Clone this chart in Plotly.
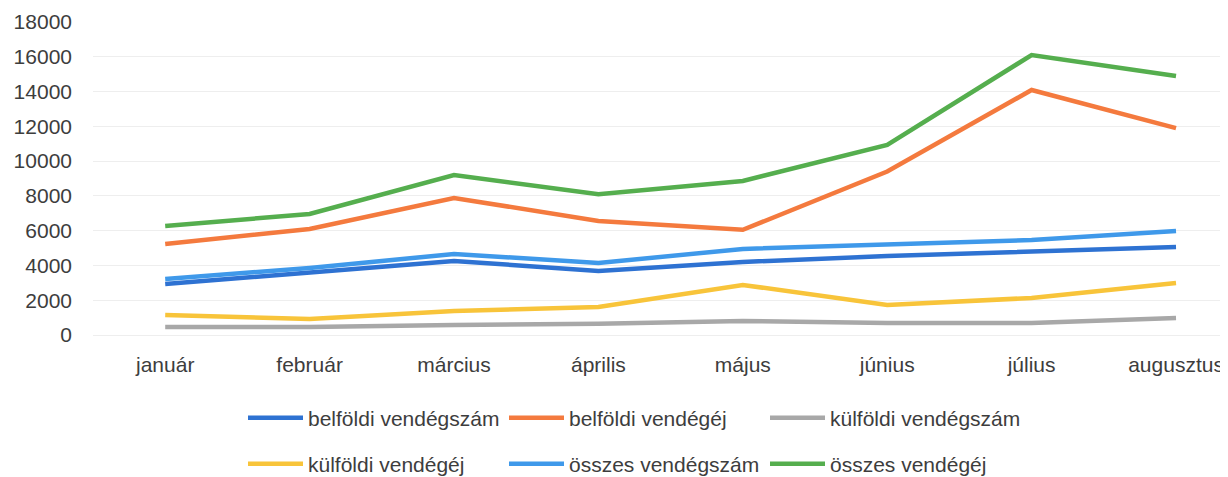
import plotly.graph_objects as go

months = ["január", "február", "március", "április", "május", "június", "július", "augusztus"]

belfoldi_vendegszam = [2930, 3570, 4260, 3680, 4200, 4540, 4770, 5060]
belfoldi_vendegej = [5230, 6100, 7880, 6560, 6050, 9400, 14090, 11900]
kulfoldi_vendegszam = [460, 460, 575, 650, 800, 690, 690, 980]
kulfoldi_vendegej = [1150, 920, 1380, 1610, 2880, 1725, 2130, 2990]
osszes_vendegszam = [3220, 3850, 4660, 4140, 4950, 5180, 5460, 5980]
osszes_vendegej = [6270, 6960, 9200, 8100, 8860, 10930, 16100, 14890]

series = [
    ("belföldi vendégszám", belfoldi_vendegszam, "#2E72D2", "legend"),
    ("belföldi vendégéj", belfoldi_vendegej, "#F47A3E", "legend"),
    ("külföldi vendégszám", kulfoldi_vendegszam, "#A8A8A8", "legend"),
    ("külföldi vendégéj", kulfoldi_vendegej, "#F8C43A", "legend2"),
    ("összes vendégszám", osszes_vendegszam, "#3F99EA", "legend2"),
    ("összes vendégéj", osszes_vendegej, "#55AE4E", "legend2"),
]

FONT = "Liberation Sans, Arial, sans-serif"
TXT = "#3d3d3d"

W, H = 1220, 469  # page body has an 8px margin

fig = go.Figure()
for name, vals, color, lg in series:
    fig.add_trace(go.Scatter(
        x=months, y=vals, name=name, mode="lines",
        line=dict(color=color, width=4.5),
        legend=lg,
    ))

legend_common = dict(
    orientation="h",
    xref="container", yref="container",
    xanchor="left", yanchor="middle",
    font=dict(family=FONT, size=21, color=TXT),
    entrywidth=191, entrywidthmode="pixels",
    itemwidth=55,
    bgcolor="rgba(0,0,0,0)",
    traceorder="normal",
)

fig.update_layout(
    width=W, height=H,
    margin=dict(l=85, r=0, t=14, b=142),
    paper_bgcolor="white", plot_bgcolor="white",
    font=dict(family=FONT, size=21, color=TXT),
    showlegend=True,
    legend=dict(x=235 / W, y=1 - 410 / H, **legend_common),
    legend2=dict(x=235 / W, y=1 - 456 / H, **legend_common),
    xaxis=dict(
        type="category", automargin=False,
        range=[-0.5, 7.36],
        showgrid=False, zeroline=False,
        showline=True, linecolor="#eeeeee", linewidth=1,
        ticks="", ticklabelstandoff=11,
        tickfont=dict(family=FONT, size=21, color=TXT),
    ),
    yaxis=dict(
        automargin=False,
        range=[0, 18000], tickmode="linear", tick0=0, dtick=2000,
        showgrid=True, gridcolor="#eeeeee", gridwidth=1,
        zeroline=False, showline=False, ticks="",
        ticklabelstandoff=20,
        tickfont=dict(family=FONT, size=21, color=TXT),
        tickformat="d",
    ),
)

fig.write_html("out.html")
